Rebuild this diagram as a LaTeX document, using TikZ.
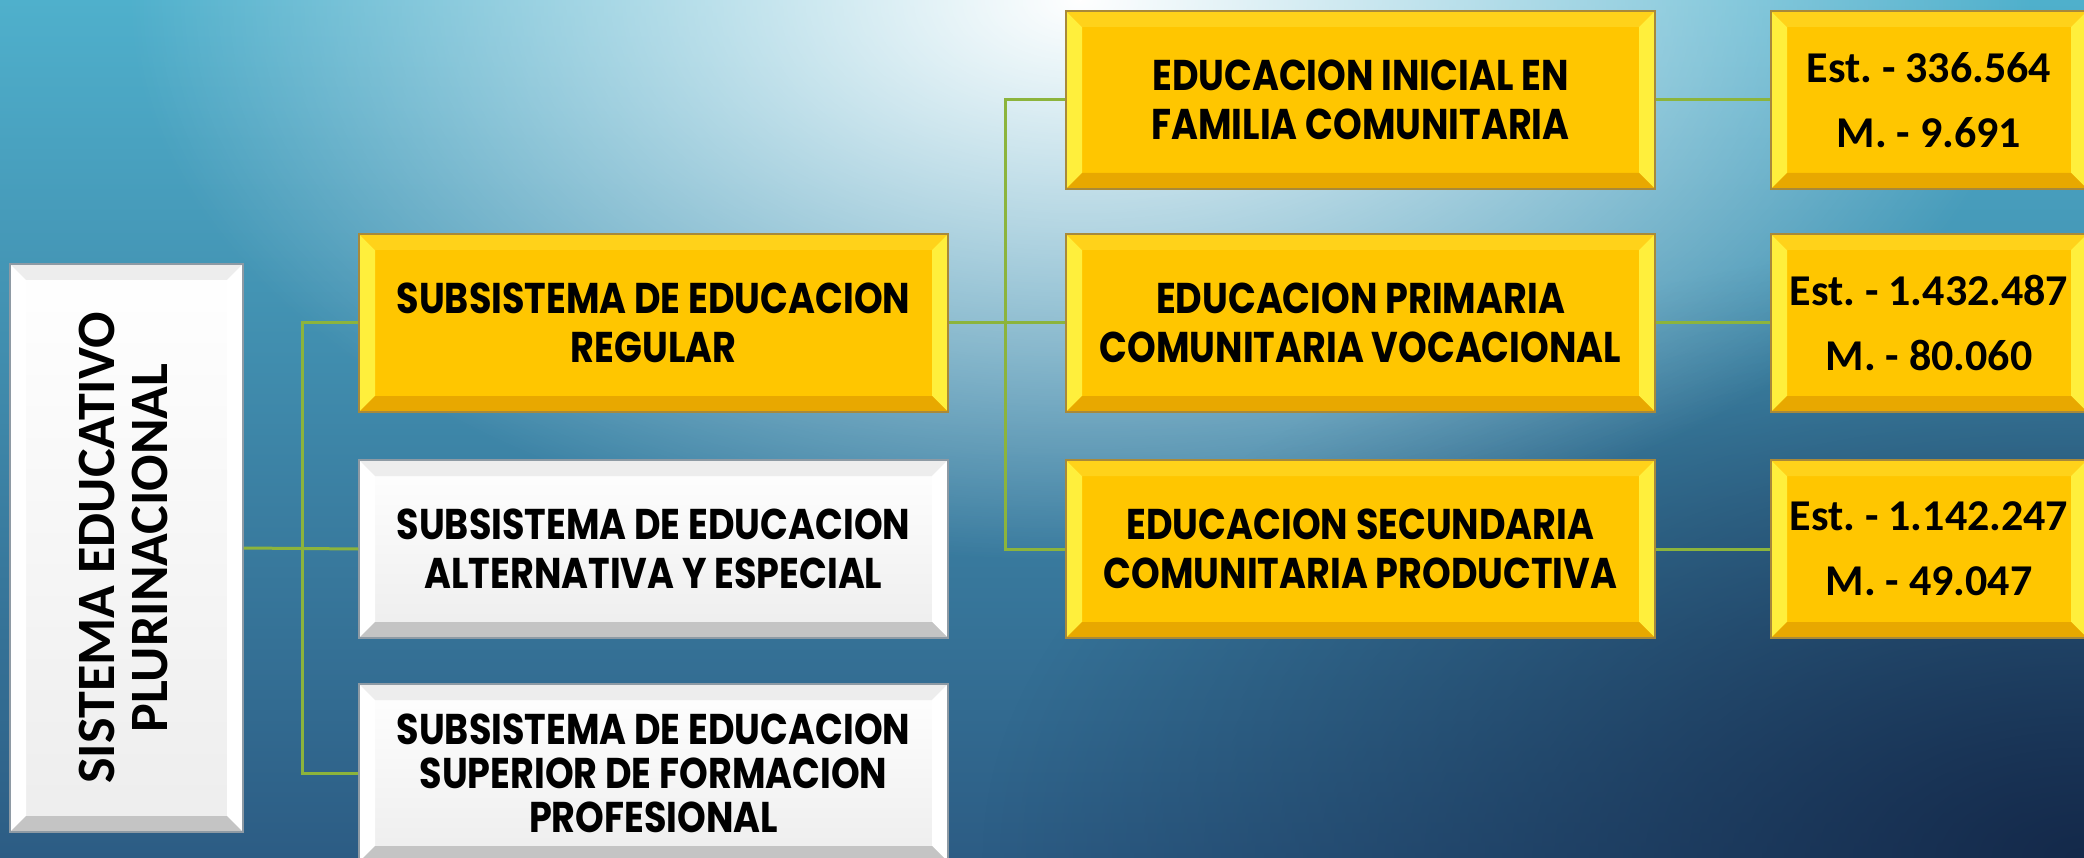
\documentclass[tikz,border=0pt]{standalone}
\usepackage{fontspec}
\setmainfont{Carlito}
\newfontfamily\gothic{Poppins}[FakeStretch=0.85]
\usetikzlibrary{fadings}
\frenchspacing

\definecolor{gold}{HTML}{FFC600}
\definecolor{goldlight}{HTML}{FFEF3C}
\definecolor{goldtop}{HTML}{FFD21A}
\definecolor{golddark}{HTML}{E8A800}
\definecolor{goldedge}{HTML}{A8893A}
\definecolor{greylight}{HTML}{FFFFFF}
\definecolor{greytop}{HTML}{EDEDED}
\definecolor{greydark}{HTML}{C4C4C4}
\definecolor{greyedge}{HTML}{8E9AA4}
\definecolor{linkgreen}{HTML}{8CB43C}
\definecolor{bgtop}{HTML}{4FB0CC}
\definecolor{bgbottom}{HTML}{2C5C84}
\definecolor{bgnavy}{HTML}{14294A}

\tikzfading[name=glowfade, inner color=transparent!0, outer color=transparent!100]

\begin{document}
\begin{tikzpicture}[x=1pt,y=-1pt,
    bevel/.style n args={4}{path picture={
        \coordinate (bbnw) at (path picture bounding box.north west);
        \coordinate (bbne) at (path picture bounding box.north east);
        \coordinate (bbsw) at (path picture bounding box.south west);
        \coordinate (bbse) at (path picture bounding box.south east);
        \fill[#1] (bbnw) -- (bbsw) -- ([xshift=16pt,yshift=16pt]bbsw) -- ([xshift=16pt,yshift=-16pt]bbnw) -- cycle;
        \fill[#2] (bbnw) -- (bbne) -- ([xshift=-16pt,yshift=-16pt]bbne) -- ([xshift=16pt,yshift=-16pt]bbnw) -- cycle;
        \fill[#3] (bbne) -- (bbse) -- ([xshift=-16pt,yshift=16pt]bbse) -- ([xshift=-16pt,yshift=-16pt]bbne) -- cycle;
        \fill[#4] (bbsw) -- (bbse) -- ([xshift=-16pt,yshift=16pt]bbse) -- ([xshift=16pt,yshift=16pt]bbsw) -- cycle;
    }},
    goldbox/.style={draw=goldedge, line width=1.5pt, fill=gold,
        bevel={goldlight}{goldtop}{goldlight}{golddark}},
    greybox/.style={draw=greyedge, line width=1.5pt, top color=white, bottom color=greytop,
        bevel={greylight}{greytop}{greylight}{greydark}},
    lvl/.style={minimum width=589pt, minimum height=178pt, inner sep=0pt, align=center,
        font=\gothic\bfseries\fontsize{43}{49}\selectfont},
    num/.style={minimum width=316pt, minimum height=178pt, inner sep=0pt, align=center,
        font=\bfseries\fontsize{44}{65}\selectfont},
    conn/.style={draw=linkgreen, line width=3pt}]

    \useasboundingbox (0,0) rectangle (2084,858);

    % background
    \begin{scope}
        \clip (0,0) rectangle (2084,858);
        \shade[top color=bgtop, bottom color=bgbottom] (0,0) rectangle (2084,858);
        \fill[bgnavy, path fading=glowfade] (2084,858) ellipse [x radius=1100pt, y radius=620pt];
        \fill[white, path fading=glowfade] (1080,0) ellipse [x radius=950pt, y radius=560pt];
    \end{scope}

    % root
    \node[greybox, minimum width=233pt, minimum height=568pt] (root) at (126.5,548) {};
    \node[rotate=90, align=center, font=\bfseries\fontsize{54}{53}\selectfont] (roottxt)
        at ([xshift=-3pt]root.center) {SISTEMA EDUCATIVO\\PLURINACIONAL};

    % subsystems
    \node[lvl, goldbox] (reg) at (653.5,323) {SUBSISTEMA DE EDUCACION\\REGULAR};
    \node[lvl, greybox] (alt) at (653.5,549) {SUBSISTEMA DE EDUCACION\\ALTERNATIVA Y ESPECIAL};
    \node[lvl, greybox, font=\gothic\bfseries\fontsize{43}{44}\selectfont] (sup) at (653.5,773)
        {SUBSISTEMA DE EDUCACION\\SUPERIOR DE FORMACION\\PROFESIONAL};

    % levels of regular education
    \node[lvl, goldbox] (ini) at (1360.5,100) {EDUCACION INICIAL EN\\FAMILIA COMUNITARIA};
    \node[lvl, goldbox] (prim) at (1360.5,323) {EDUCACION PRIMARIA\\COMUNITARIA VOCACIONAL};
    \node[lvl, goldbox] (sec) at (1360.5,549) {EDUCACION SECUNDARIA\\COMUNITARIA PRODUCTIVA};

    % students and teachers
    \node[num, goldbox] (n1) at (1929,100) {Est. - 336.564\\M. - 9.691};
    \node[num, goldbox] (n2) at (1929,323) {Est. - 1.432.487\\M. - 80.060};
    \node[num, goldbox] (n3) at (1929,549) {Est. - 1.142.247\\M. - 49.047};

    % connectors
    \draw[conn] (root.east) -- (alt.west);
    \draw[conn] (reg.west) -- ++(-56,0) |- (sup.west);
    \draw[conn] (reg.east) -- (prim.west);
    \draw[conn] (ini.west) -- ++(-60,0) |- (sec.west);
    \draw[conn] (ini.east) -- (n1.west);
    \draw[conn] (prim.east) -- (n2.west);
    \draw[conn] (sec.east) -- (n3.west);
\end{tikzpicture}
\end{document}
